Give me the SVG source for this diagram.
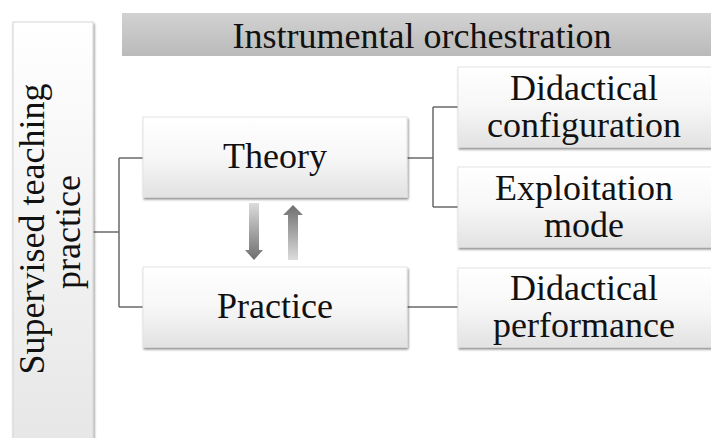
<svg xmlns="http://www.w3.org/2000/svg" width="711" height="438" viewBox="0 0 711 438">
<defs>
<linearGradient id="boxg" x1="0" y1="0" x2="0" y2="1">
<stop offset="0" stop-color="#ffffff"/>
<stop offset="0.5" stop-color="#f7f7f7"/>
<stop offset="1" stop-color="#e2e2e2"/>
</linearGradient>
<linearGradient id="barg" x1="0" y1="0" x2="0" y2="1">
<stop offset="0" stop-color="#ffffff"/>
<stop offset="1" stop-color="#e6e6e6"/>
</linearGradient>
<linearGradient id="bang" x1="0" y1="0" x2="0" y2="1">
<stop offset="0" stop-color="#d2d2d2"/>
<stop offset="1" stop-color="#bababa"/>
</linearGradient>
<linearGradient id="downg" x1="0" y1="0" x2="0" y2="1">
<stop offset="0" stop-color="#dcdcdc"/>
<stop offset="1" stop-color="#6e6e6e"/>
</linearGradient>
<linearGradient id="upg" x1="0" y1="0" x2="0" y2="1">
<stop offset="0" stop-color="#6e6e6e"/>
<stop offset="1" stop-color="#dcdcdc"/>
</linearGradient>
<filter id="sh" x="-5%" y="-10%" width="110%" height="130%">
<feDropShadow dx="1" dy="2" stdDeviation="1.2" flood-color="#000" flood-opacity="0.45"/>
</filter>
</defs>
<style>
.t{font-family:"Liberation Serif","Times New Roman",serif;font-size:36px;fill:#111;text-anchor:middle}
.box{fill:url(#boxg);stroke:#e4e4e4;stroke-width:1;filter:url(#sh)}
.conn{fill:none;stroke:#6a6a6a;stroke-width:1.5}
</style>
<rect x="0" y="0" width="711" height="438" fill="#ffffff"/>

<g id="connectors">
<path class="conn" d="M93 232 H119 M119 158 V307 M119 158 H143 M119 307 H143"/>
<path class="conn" d="M407 158 H433 M433 107 V207 M433 107 H458 M433 207 H458"/>
<path class="conn" d="M407 307 H458"/>
</g>

<g id="banner">
<rect x="122" y="13" width="600" height="43" fill="url(#bang)"/>
<text class="t" x="422" y="48">Instrumental orchestration</text>
</g>

<g id="supervised">
<rect x="13" y="22" width="80" height="430" fill="url(#barg)" stroke="#d6d6d6" stroke-width="1" filter="url(#sh)"/>
<text class="t" transform="translate(44 229) rotate(-90)">Supervised teaching</text>
<text class="t" transform="translate(80 232) rotate(-90)">practice</text>
</g>

<g id="theory">
<rect class="box" x="143" y="117" width="264" height="80"/>
<text class="t" x="275" y="168">Theory</text>
</g>

<g id="practice">
<rect class="box" x="143" y="267" width="264" height="80"/>
<text class="t" x="275" y="318">Practice</text>
</g>

<g id="didactical-configuration">
<rect class="box" x="458" y="67" width="260" height="80"/>
<text class="t" x="584" y="100">Didactical</text>
<text class="t" x="584" y="137">configuration</text>
</g>

<g id="exploitation-mode">
<rect class="box" x="458" y="167" width="260" height="80"/>
<text class="t" x="584" y="200">Exploitation</text>
<text class="t" x="584" y="237">mode</text>
</g>

<g id="didactical-performance">
<rect class="box" x="458" y="268" width="260" height="79"/>
<text class="t" x="584" y="300">Didactical</text>
<text class="t" x="584" y="337">performance</text>
</g>

<g id="arrows">
<path d="M249 203 H259 V250 H263 L254 260 L245 250 H249 Z" fill="url(#downg)"/>
<path d="M288 260 V215 H283 L293 205 L303 215 H298 V260 Z" fill="url(#upg)"/>
</g>
</svg>
